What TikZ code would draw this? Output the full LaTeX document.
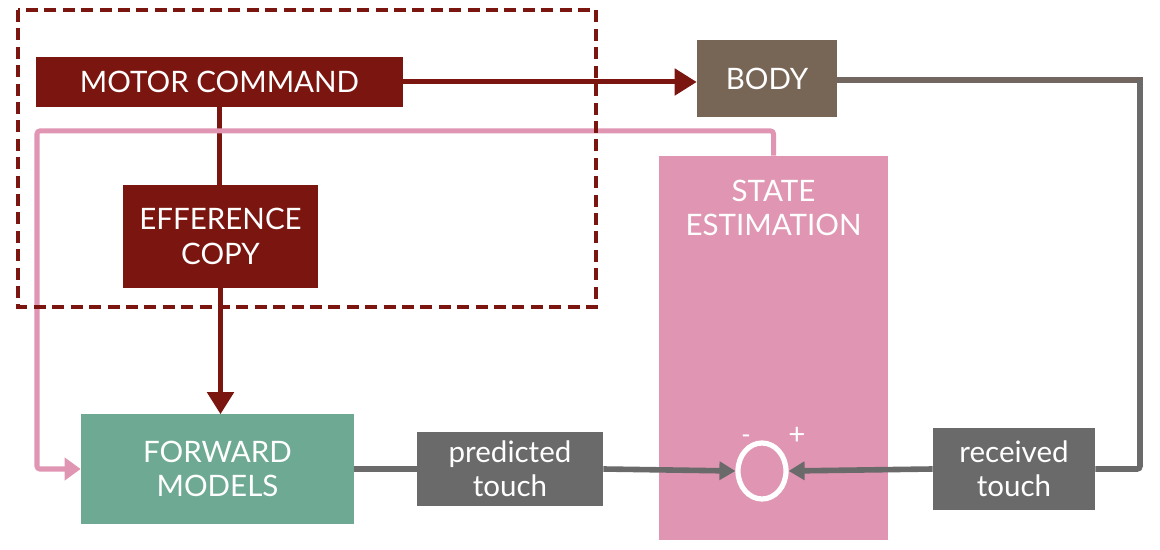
\documentclass[tikz,border=0pt]{standalone}
\usepackage{fontspec}
\setmainfont{Lato}
\usetikzlibrary{arrows.meta, positioning, shapes.geometric, calc}
\definecolor{cMotor}{HTML}{7B1510}
\definecolor{cBody}{HTML}{776556}
\definecolor{cState}{HTML}{E096B2}
\definecolor{cFwd}{HTML}{6DA993}
\definecolor{cTouch}{HTML}{6A6A6A}
\begin{document}
\begin{tikzpicture}[x=0.025cm, y=-0.025cm,
  every node/.style={font=\fontsize{21}{24.5}\selectfont},
  blk/.style={align=center, inner sep=0pt, text=white},
  motorbox/.style={blk, fill=cMotor},
  touchbox/.style={blk, fill=cTouch},
  motorar/.style={-{Triangle[length=0.55cm, width=0.65cm]}, line width=0.125cm, draw=cMotor},
  pinkar/.style={-{Triangle[length=0.4cm, width=0.55cm]}, line width=0.125cm, draw=cState, rounded corners=2pt},
  grayar/.style={-{Triangle[length=0.4cm, width=0.45cm]}, line width=0.14cm, draw=cTouch}
]
\useasboundingbox (0,0) rectangle (1160,550);

% Motor side
\node[motorbox, minimum width=9.175cm, minimum height=1.25cm] (motor) at (219.5,82) {MOTOR COMMAND};
\node[motorbox, minimum width=4.875cm, minimum height=2.575cm] (eff) at (220.5,236.5) {EFFERENCE\\COPY};
\node[blk, fill=cBody, minimum width=3.5cm, minimum height=1.925cm] (body) at (767,78.5) {BODY};

% Estimation
\node[blk, fill=cState, minimum width=5.725cm, minimum height=9.6cm,
  label={[blk, below=0.6cm]north:STATE\\ESTIMATION}] (state) at (773.5,348) {};
\node[blk, fill=cFwd, minimum width=6.825cm, minimum height=2.725cm] (fwd) at (217.5,469) {FORWARD\\MODELS};
\node[touchbox, minimum width=4.65cm, minimum height=1.825cm] (pred) at (510,469) {predicted\\touch};
\node[touchbox, minimum width=4.05cm, minimum height=2.05cm] (recv) at (1014,469) {received\\touch};
\node[ellipse, draw=white, line width=0.13cm, minimum width=1.2cm, minimum height=1.4cm, inner sep=0pt] (sum) at (762,471) {};
\node[text=white, font=\fontsize{18}{20}\selectfont] (minus) at (746,439) {-};
\node[text=white, font=\fontsize{21}{24}\selectfont] (plus) at (797,436) {+};

\coordinate (pinkturn) at (37,131);
\coordinate (grayturn) at (1140,80);

\draw[motorar] (motor.east) -- (motor.east -| body.west);
\draw[line width=0.125cm, draw=cMotor] (motor.south) -- (motor.south |- eff.north);
\draw[motorar] (eff.south) -- (eff.south |- fwd.north);
\draw[pinkar] (state.north) |- (pinkturn) |- (fwd.west);
\draw[line width=0.14cm, draw=cBody!50!cTouch] (body.east |- grayturn) -- ([xshift=0.07cm]grayturn);
\draw[line width=0.14cm, draw=cTouch, rounded corners=2pt] (grayturn) |- (recv.east);
\draw[line width=0.14cm, draw=cTouch] (fwd.east) -- (pred.west);
\draw[grayar] (pred.east) -- (sum.west);
\draw[grayar] (recv.west) -- (sum.east);

% Copy region
\draw[cMotor, line width=0.1cm, dash pattern=on 0.3cm off 0.16cm] (18,10) rectangle (596,307);
\end{tikzpicture}
\end{document}
